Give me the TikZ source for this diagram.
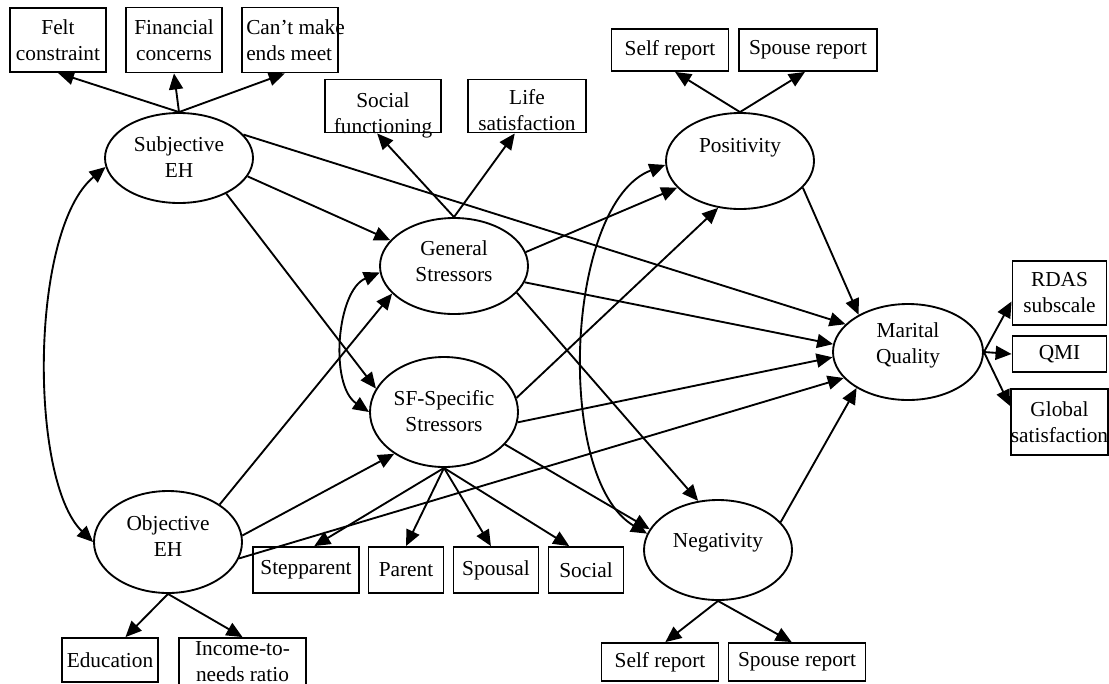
\documentclass[tikz,border=0pt]{standalone}
\usepackage{fontspec}
\setmainfont{Liberation Serif}
\usetikzlibrary{arrows.meta,shapes.geometric}
\begin{document}
\begin{tikzpicture}[x=0.75pt,y=-0.75pt,
  font=\fontsize{16}{19.5}\selectfont,
  box/.style={draw, line width=1.4pt, inner sep=0pt, align=center},
  latent/.style={draw, ellipse, line width=1.4pt, inner sep=0pt},
  txt/.style={inner sep=0pt, align=center},
  path/.style={line width=1.4pt, -{Triangle[length=12pt,width=10.5pt]}},
  cov/.style={line width=1.4pt, {Triangle[length=12pt,width=10.5pt]}-{Triangle[length=12pt,width=10.5pt]}}]
\useasboundingbox (0,0) rectangle (1109,683);

% latent variables
\node[latent, minimum width=111pt, minimum height=67.5pt] (sub) at (179,158) {};
\node[txt] (subT) at (179,157) {Subjective\\EH};
\node[latent, minimum width=111pt, minimum height=72pt] (gen) at (454,266) {};
\node[txt] (genT) at (454,261) {General\\Stressors};
\node[latent, minimum width=111pt, minimum height=82.5pt] (sf) at (444,412) {};
\node[txt] (sfT) at (444,411) {SF-Specific\\Stressors};
\node[latent, minimum width=111pt, minimum height=76.5pt] (obj) at (168,542) {};
\node[txt] (objT) at (168,536) {Objective\\EH};
\node[latent, minimum width=111pt, minimum height=72pt] (pos) at (740,161) {};
\node[txt] (posT) at (740,148) {Positivity};
\node[latent, minimum width=111pt, minimum height=75pt] (neg) at (718,550) {};
\node[txt] (negT) at (718,543) {Negativity};
\node[latent, minimum width=112.5pt, minimum height=72pt] (mar) at (908,352) {};
\node[txt] (marT) at (908,345) {Marital\\Quality};

% indicators
\node[box, minimum width=72pt, minimum height=48pt] (felt) at (58,40) {Felt\\constraint};
\node[box, minimum width=72pt, minimum height=48.75pt] (fin) at (174,40) {Financial\\concerns};
\node[box, minimum width=72pt, minimum height=48.75pt] (cant) at (290,40) {};
\node[txt, anchor=west, align=left] (cantT) at (246,40) {Can’t make\\ends meet};
\node[box, minimum width=87pt, minimum height=39.75pt] (sfun) at (383,106) {};
\node[txt] (sfunT) at (383,115) {Social\\functioning};
\node[box, minimum width=88.5pt, minimum height=39.75pt] (life) at (527,106) {};
\node[txt] (lifeT) at (527,110) {Life\\satisfaction};
\node[box, minimum width=87.75pt, minimum height=31.5pt] (selfT) at (670,50) {Self report};
\node[box, minimum width=103.5pt, minimum height=31.5pt] (spouseT) at (808,50) {Spouse report};
\node[box, minimum width=70.5pt, minimum height=48pt] (rdas) at (1059.5,293) {RDAS\\subscale};
\node[box, minimum width=70.5pt, minimum height=27pt] (qmi) at (1059.5,354) {QMI};
\node[box, minimum width=70.5pt, minimum height=49.5pt] (glob) at (1059.5,422) {Global\\satisfaction};
\node[box, minimum width=79.5pt, minimum height=34.5pt] (step) at (306,570) {Stepparent};
\node[box, minimum width=56.25pt, minimum height=34.5pt] (parent) at (406,570) {Parent};
\node[box, minimum width=63.75pt, minimum height=34.5pt] (spousal) at (496,570) {Spousal};
\node[box, minimum width=56.25pt, minimum height=34.5pt] (social) at (586,570) {Social};
\node[box, minimum width=72pt, minimum height=33pt] (edu) at (110,660) {Education};
\node[box, minimum width=95.25pt, minimum height=52.5pt] (inc) at (242.5,673) {};
\node[txt] (incT) at (242.5,662) {Income-to-\\needs ratio};
\node[box, minimum width=87.75pt, minimum height=28.5pt] (selfB) at (660,662) {Self report};
\node[box, minimum width=102.75pt, minimum height=28.5pt] (spouseB) at (797,662) {Spouse report};

% measurement paths
\draw[path] (sub.north) -- (felt.south);
\draw[path] (sub.north) -- (fin.south);
\draw[path] (sub.north) -- (cant.261);
\draw[path] (gen.north) -- (sfun.258);
\draw[path] (gen.north) -- (life.246);
\draw[path] (pos.north) -- (selfT.283);
\draw[path] (pos.north) -- (spouseT.262);
\draw[path] (obj.south) -- (edu.56);
\draw[path] (obj.south) -- (inc.north);
\draw[path] (sf.south) -- (step.71);
\draw[path] (sf.south) -- (parent.north);
\draw[path] (sf.south) -- (spousal.102);
\draw[path] (sf.south) -- (social.125);
\draw[path] (neg.south) -- (selfB.75);
\draw[path] (neg.south) -- (spouseB.105);
\draw[path] (mar.east) -- (rdas.190);
\draw[path] (mar.east) -- (qmi.west);
\draw[path] (mar.east) -- (glob.162);

% structural paths
\draw[path] (sub.-15) -- (gen.158);
\draw[path] (sub.-37) -- (sf.161);
\draw[path] (sub.20) -- (mar.156);
\draw[path] (obj.36) -- (gen.204);
\draw[path] (obj.5) -- (sf.220);
\draw[path] (obj.-13) -- (mar.202);
\draw[path] (gen.11) -- (pos.203);
\draw[path] (gen.-13) -- (mar.174);
\draw[path] (gen.-23) -- (neg.112);
\draw[path] (sf.11) -- (pos.245);
\draw[path] (sf.-8) -- (mar.184);
\draw[path] (sf.-28) -- (neg.163);
\draw[path] (pos.-23.5) -- (mar.143);
\draw[path] (neg.24) -- (mar.215);

% covariances
\draw[cov] (sub.187) .. controls +(-76,63) and +(-64,-62) .. (obj.west);
\draw[cov] (gen.185) .. controls +(-43,18) and +(-40,-27) .. (sf.west);
\draw[cov] (pos.183) .. controls +(-100,38) and +(-93,-55) .. (neg.167);
\end{tikzpicture}
\end{document}
